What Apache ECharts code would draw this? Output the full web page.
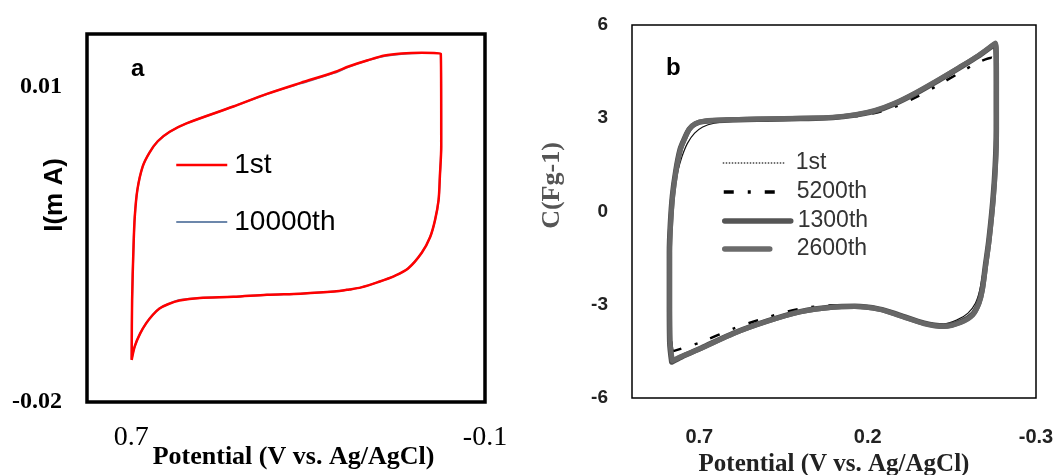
<!DOCTYPE html>
<html><head><meta charset="utf-8">
<script src="https://cdn.jsdelivr.net/npm/echarts@6/dist/echarts.min.js"></script>
<style>html,body{margin:0;padding:0;background:#fff}#c{width:1059px;height:475px}</style>
</head><body><div id="c"></div>
<script>
// ---- Panel a: I (mA) vs Potential ----
const namesA = ['1st', '10000th'];
const A_1st = [[0.699,-0.0160],[0.698,-0.0103],[0.695,-0.0055],[0.692,-0.0024],[0.686,0.0002],[0.674,0.0024],[0.659,0.0037],[0.640,0.0048],[0.613,0.0057],[0.575,0.0065],[0.469,0.0081],[0.393,0.0093],[0.317,0.01035],[0.241,0.01136],[0.207,0.01193],[0.165,0.0125],[0.127,0.01295],[0.089,0.01314],[0.043,0.01321],[0.0,0.01314],[-0.001,0.0043],[0.002,0.0015],[0.005,-0.0008],[0.013,-0.0027],[0.024,-0.0043],[0.043,-0.0058],[0.074,-0.0073],[0.104,-0.0080],[0.142,-0.0086],[0.180,-0.0091],[0.207,-0.0093],[0.241,-0.0095],[0.317,-0.0097],[0.393,-0.0098],[0.469,-0.0100],[0.545,-0.0101],[0.591,-0.01035],[0.617,-0.0107],[0.636,-0.0111],[0.651,-0.0117],[0.666,-0.0125],[0.680,-0.0135],[0.692,-0.0147],[0.699,-0.0160]];
const A_10000th = [[0.699,-0.0159],[0.698,-0.0103],[0.695,-0.0055],[0.692,-0.0024],[0.686,0.0002],[0.674,0.0024],[0.659,0.0037],[0.640,0.0048],[0.613,0.0057],[0.575,0.0065],[0.469,0.0081],[0.393,0.0093],[0.317,0.0103],[0.241,0.0113],[0.207,0.0119],[0.165,0.0125],[0.127,0.0129],[0.089,0.0131],[0.043,0.0132],[0.0,0.0131],[-0.001,0.0043],[0.002,0.0015],[0.005,-0.0008],[0.013,-0.0027],[0.024,-0.0043],[0.043,-0.0058],[0.074,-0.0073],[0.104,-0.0080],[0.142,-0.0086],[0.180,-0.0091],[0.207,-0.0093],[0.241,-0.0095],[0.317,-0.0097],[0.393,-0.0098],[0.469,-0.0100],[0.545,-0.0101],[0.591,-0.0103],[0.617,-0.0107],[0.636,-0.0111],[0.651,-0.0117],[0.666,-0.0125],[0.680,-0.0135],[0.692,-0.0147],[0.699,-0.0159]];
const xTicksA = [0.7, -0.1];
const yTicksA = [-0.02, 0.01];

// ---- Panel b: C (F/g) vs Potential ----
const namesB = ['1st', '5200th', '1300th', '2600th'];
const B_1st = [[0.782,-4.80],[0.787,-4.15],[0.788,-2.90],[0.788,-1.30],[0.785,-0.40],[0.778,0.50],[0.766,1.20],[0.752,1.75],[0.735,2.20],[0.714,2.52],[0.690,2.72],[0.656,2.84],[0.600,2.90],[0.500,2.95],[0.400,2.98],[0.303,3.01],[0.238,3.09],[0.179,3.22],[0.121,3.44],[0.056,3.79],[-0.012,4.21],[-0.071,4.59],[-0.129,4.98],[-0.178,5.33],[-0.181,4.23],[-0.181,2.62],[-0.178,1.50],[-0.170,0.37],[-0.157,-0.92],[-0.146,-1.72],[-0.133,-2.52],[-0.120,-2.95],[-0.098,-3.27],[-0.067,-3.48],[-0.026,-3.62],[0.032,-3.56],[0.106,-3.32],[0.165,-3.13],[0.238,-3.04],[0.303,-3.06],[0.400,-3.21],[0.497,-3.50],[0.597,-3.89],[0.694,-4.36],[0.753,-4.64],[0.782,-4.80]];
const B_5200th = [[0.780,-4.50],[0.786,-3.90],[0.788,-2.90],[0.788,-1.30],[0.785,-0.40],[0.779,0.50],[0.769,1.30],[0.756,2.00],[0.743,2.35],[0.729,2.64],[0.711,2.81],[0.684,2.89],[0.620,2.93],[0.500,2.96],[0.400,2.98],[0.303,3.00],[0.238,3.06],[0.179,3.17],[0.121,3.36],[0.056,3.68],[-0.012,4.08],[-0.071,4.45],[-0.129,4.80],[-0.168,4.95],[-0.180,4.50],[-0.182,2.62],[-0.179,1.50],[-0.172,0.37],[-0.160,-0.92],[-0.150,-1.72],[-0.140,-2.52],[-0.130,-2.94],[-0.112,-3.30],[-0.076,-3.55],[-0.026,-3.68],[0.032,-3.59],[0.106,-3.33],[0.165,-3.12],[0.238,-3.03],[0.303,-3.02],[0.400,-3.13],[0.497,-3.40],[0.597,-3.76],[0.694,-4.20],[0.750,-4.40],[0.780,-4.50]];
const B_1300th = [[0.782,-4.84],[0.788,-4.20],[0.789,-2.90],[0.789,-1.30],[0.786,-0.40],[0.780,0.50],[0.770,1.30],[0.757,2.00],[0.744,2.35],[0.730,2.65],[0.712,2.82],[0.685,2.90],[0.620,2.94],[0.500,2.97],[0.400,2.99],[0.303,3.02],[0.238,3.10],[0.179,3.23],[0.121,3.46],[0.056,3.81],[-0.012,4.23],[-0.071,4.61],[-0.129,5.00],[-0.179,5.39],[-0.182,4.23],[-0.182,2.62],[-0.179,1.50],[-0.172,0.37],[-0.160,-0.92],[-0.150,-1.72],[-0.140,-2.52],[-0.130,-2.94],[-0.112,-3.30],[-0.076,-3.55],[-0.026,-3.68],[0.032,-3.59],[0.106,-3.33],[0.165,-3.14],[0.238,-3.05],[0.303,-3.07],[0.400,-3.22],[0.497,-3.52],[0.597,-3.91],[0.694,-4.39],[0.753,-4.68],[0.782,-4.84]];
const B_2600th = [[0.780,-4.80],[0.787,-4.15],[0.788,-2.90],[0.788,-1.30],[0.785,-0.40],[0.779,0.50],[0.769,1.30],[0.756,2.00],[0.743,2.36],[0.729,2.66],[0.711,2.83],[0.684,2.91],[0.620,2.95],[0.500,2.98],[0.400,3.00],[0.303,3.03],[0.238,3.11],[0.179,3.25],[0.121,3.48],[0.056,3.83],[-0.012,4.25],[-0.071,4.63],[-0.129,5.02],[-0.180,5.42],[-0.183,4.23],[-0.183,2.62],[-0.180,1.50],[-0.173,0.37],[-0.161,-0.92],[-0.151,-1.72],[-0.141,-2.52],[-0.131,-2.95],[-0.113,-3.32],[-0.077,-3.57],[-0.026,-3.70],[0.032,-3.61],[0.106,-3.35],[0.165,-3.15],[0.238,-3.06],[0.303,-3.08],[0.400,-3.23],[0.497,-3.53],[0.597,-3.92],[0.694,-4.40],[0.753,-4.66],[0.780,-4.80]];
const xTicksB = [0.7, 0.2, -0.3];

const SANS = 'Liberation Sans';
const SERIF = 'Liberation Serif';
const bName = n => n + ' (b)';
const stripB = n => n.replace(/ \(b\)$/, '');
const hideSym = {opacity: 0, borderWidth: 0};

const chart = echarts.init(document.getElementById('c'), null, {renderer: 'canvas'});
const lineBase = {type: 'line', symbol: 'none', showSymbol: false, smooth: 0.3, animation: false};

const legendB = (name, top, width, pad, ls) => ({
  data: [{name: bName(name), lineStyle: ls, itemStyle: hideSym}], left: 722, top: top, orient: 'vertical', padding: 0,
  itemWidth: width, itemHeight: 12, selectedMode: false, formatter: stripB,
  textStyle: {fontFamily: SANS, fontSize: 23, color: '#333', lineHeight: 24, padding: [0, 0, 0, pad]}
});

chart.setOption({
  animation: false,
  backgroundColor: '#fff',
  title: [
    {text: 'a', left: 131, top: 57, padding: 0, textStyle: {fontFamily: SANS, fontWeight: 'bold', fontSize: 24, color: '#000'}},
    {text: 'b', left: 666, top: 56, padding: 0, textStyle: {fontFamily: SANS, fontWeight: 'bold', fontSize: 24, color: '#000'}}
  ],
  grid: [
    {left: 87, top: 34, width: 398, height: 368, show: true, borderColor: '#000', borderWidth: 3.5, backgroundColor: 'rgba(0,0,0,0)', outerBoundsMode: 'none', containLabel: false},
    {left: 632, top: 25, width: 404, height: 373, show: true, borderColor: '#000', borderWidth: 1.5, backgroundColor: 'rgba(0,0,0,0)', outerBoundsMode: 'none', containLabel: false}
  ],
  xAxis: [
    {gridIndex: 0, type: 'value', min: -0.1, max: 0.8, inverse: true,
     axisLine: {show: false}, axisTick: {show: false}, splitLine: {show: false},
     axisLabel: {customValues: xTicksA, margin: 22, fontFamily: SERIF, fontSize: 28, color: '#000'},
     name: 'Potential (V vs. Ag/AgCl)', nameLocation: 'middle', nameGap: 42, nameMoveOverlap: false,
     nameTextStyle: {fontFamily: SERIF, fontWeight: 'bold', fontSize: 26, color: '#000', padding: [0, 0, 0, 15]}},
    {gridIndex: 1, type: 'value', min: -0.3, max: 0.9, inverse: true,
     axisLine: {show: false}, axisTick: {show: false}, splitLine: {show: false},
     axisLabel: {customValues: xTicksB, margin: 29, fontFamily: SANS, fontWeight: 'bold', fontSize: 20, color: '#222'},
     name: 'Potential (V vs. Ag/AgCl)', nameLocation: 'middle', nameGap: 54, nameMoveOverlap: false,
     nameTextStyle: {fontFamily: SERIF, fontWeight: 'bold', fontSize: 25, color: '#222'}}
  ],
  yAxis: [
    {gridIndex: 0, type: 'value', min: -0.02, max: 0.015,
     axisLine: {show: false}, axisTick: {show: false}, splitLine: {show: false},
     axisLabel: {customValues: yTicksA, margin: 25, fontFamily: SERIF, fontWeight: 'bold', fontSize: 24, color: '#000'},
     name: 'I(m A)', nameLocation: 'middle', nameGap: 19, nameMoveOverlap: false,
     nameTextStyle: {fontFamily: SANS, fontWeight: 'bold', fontSize: 26, color: '#000', padding: [0, 0, 0, 46]}},
    {gridIndex: 1, type: 'value', min: -6, max: 6, interval: 3,
     axisLine: {show: false}, axisTick: {show: false}, splitLine: {show: false},
     axisLabel: {margin: 24, fontFamily: SANS, fontWeight: 'bold', fontSize: 19, color: '#222'},
     name: 'C(Fg-1)', nameLocation: 'middle', nameGap: 67, nameMoveOverlap: false,
     nameTextStyle: {fontFamily: SERIF, fontWeight: 'bold', fontSize: 26, color: '#555', padding: [0, 0, 0, 52]}}
  ],
  legend: [
    {data: [{name: namesA[0], lineStyle: {width: 2.5}, itemStyle: hideSym}, {name: namesA[1], lineStyle: {width: 2}, itemStyle: hideSym}],
     left: 175, top: 150, orient: 'vertical', padding: 0, itemGap: 27, itemWidth: 51, itemHeight: 12, selectedMode: false,
     textStyle: {fontFamily: SANS, fontSize: 28, color: '#000', lineHeight: 30, padding: [0, 0, 0, 2]}},
    legendB(namesB[0], 151, 62, 6, {width: 1.5, type: [1.5, 1.5], color: '#444'}),
    legendB(namesB[1], 180, 53, 15, {width: 3.5, type: [10, 14, 3, 14], color: '#000'}),
    legendB(namesB[2], 209, 66, 2, {width: 5.5, cap: 'round', color: '#555'}),
    legendB(namesB[3], 237, 45, 22, {width: 5.5, cap: 'round', color: '#6b6b6b'})
  ],
  series: [
    Object.assign({}, lineBase, {name: namesA[1], xAxisIndex: 0, yAxisIndex: 0, data: A_10000th, z: 2,
      lineStyle: {color: '#6c87ab', width: 2}, itemStyle: {color: '#6c87ab'}}),
    Object.assign({}, lineBase, {name: namesA[0], xAxisIndex: 0, yAxisIndex: 0, data: A_1st, z: 3,
      lineStyle: {color: '#ff0000', width: 2.5}, itemStyle: {color: '#ff0000'}}),
    Object.assign({}, lineBase, {name: bName(namesB[0]), xAxisIndex: 1, yAxisIndex: 1, data: B_1st, z: 2,
      lineStyle: {color: '#111', width: 1.2}, itemStyle: {color: '#111'}}),
    Object.assign({}, lineBase, {name: bName(namesB[1]), xAxisIndex: 1, yAxisIndex: 1, data: B_5200th, z: 2,
      lineStyle: {color: '#000', width: 2.5, type: [10, 14, 3, 14]}, itemStyle: {color: '#000'}}),
    Object.assign({}, lineBase, {name: bName(namesB[2]), xAxisIndex: 1, yAxisIndex: 1, data: B_1300th, z: 3,
      lineStyle: {color: '#4f4f4f', width: 5.5, cap: 'round', join: 'round'}, itemStyle: {color: '#4f4f4f'}}),
    Object.assign({}, lineBase, {name: bName(namesB[3]), xAxisIndex: 1, yAxisIndex: 1, data: B_2600th, z: 4,
      lineStyle: {color: '#676767', width: 5, cap: 'round', join: 'round'}, itemStyle: {color: '#676767'}})
  ]
});
</script></body></html>
